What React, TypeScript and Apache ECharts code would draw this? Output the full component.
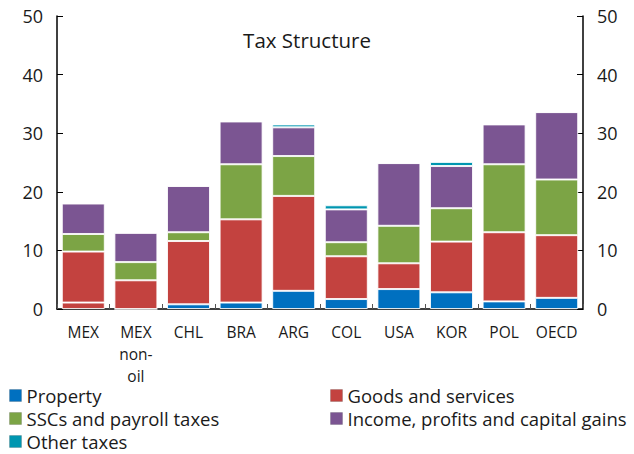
import React, { useEffect, useRef } from "react";
import * as echarts from "echarts";

const categories = ["MEX", "MEX\nnon-\noil", "CHL", "BRA", "ARG", "COL", "USA", "KOR", "POL", "OECD"];
const property = [1.1, 0, 0.8, 1.1, 3.1, 1.7, 3.4, 2.85, 1.3, 1.9];
const goods = [8.7, 4.9, 10.8, 14.2, 16.2, 7.3, 4.4, 8.65, 11.8, 10.7];
const sscs = [3.0, 3.1, 1.5, 9.4, 6.8, 2.4, 6.4, 5.7, 11.6, 9.5];
const income = [5.2, 5.0, 7.9, 7.3, 4.9, 5.6, 10.7, 7.2, 6.8, 11.5];
const other = [0, 0, 0, 0, 0.5, 0.7, 0, 0.7, 0, 0];
const yTicks = [0, 10, 20, 30, 40, 50];

const seriesNames = [
  "Property",
  "Goods and services",
  "SSCs and payroll taxes",
  "Income, profits and capital gains",
  "Other taxes",
];
const colors = ["#0070C0", "#C3423F", "#7CA445", "#7B5592", "#0096B0"];
const FONT = "'Open Sans', 'Noto Sans', sans-serif";

export default function App() {
  const ref = useRef<HTMLDivElement>(null);
  useEffect(() => {
    const chart = echarts.init(ref.current!, null, { renderer: "svg" });
    const datasets = [property, goods, sscs, income, other];
    const series = datasets.map((d, i) => ({
      name: seriesNames[i],
      type: "bar",
      stack: "total",
      barWidth: 43,
      data: d.map((v, j) =>
        i === 0 && j === 0 ? { value: v, itemStyle: { color: colors[1] } } : v
      ),
      itemStyle: { color: colors[i], borderColor: "rgba(255,255,255,0.85)", borderWidth: 1 },
    }));
    const legendPos = [
      { left: 9, top: 386 },
      { left: 330, top: 386 },
      { left: 9, top: 409 },
      { left: 330, top: 409 },
      { left: 9, top: 432 },
    ];
    const legends = seriesNames.map((n, i) => ({
      data: [n],
      left: legendPos[i].left,
      top: legendPos[i].top,
      itemWidth: 12,
      itemHeight: 12,
      itemGap: 4,
      padding: 0,
      icon: "rect",
      selectedMode: false,
      itemStyle: { borderColor: "rgba(0,0,0,0.15)", borderWidth: 1 },
      textStyle: { fontFamily: FONT, fontSize: 18.5, lineHeight: 18, color: "#1a1a1a", padding: [0, 0, 0, 0] },
    }));
    const yAxisBase = {
      type: "value",
      min: 0,
      max: 50,
      interval: 10,
      splitLine: { show: false },
      axisLine: { show: true, lineStyle: { color: "#000", width: 1.5 } },
      axisTick: { show: true, inside: true, length: 6, lineStyle: { color: "#000" } },
      axisLabel: {
        fontFamily: FONT,
        fontSize: 18,
        color: "#1a1a1a",
        margin: 14,
        formatter: (v: number) => (yTicks.includes(v) ? String(v) : ""),
      },
    };
    chart.setOption({
      animation: false,
      title: {
        text: "Tax Structure",
        left: 302,
        textAlign: "center",
        top: 24,
        textStyle: { fontFamily: FONT, fontSize: 20.5, fontWeight: "normal", color: "#1a1a1a" },
      },
      legend: legends,
      grid: { left: 57, right: 51, top: 16, bottom: 145 },
      xAxis: {
        type: "category",
        data: categories,
        axisLine: { show: true, lineStyle: { color: "#000", width: 1.5 } },
        axisTick: { show: true, inside: true, length: 5, lineStyle: { color: "#555" } },
        axisLabel: {
          fontFamily: FONT,
          fontSize: 15.5,
          color: "#1a1a1a",
          lineHeight: 22,
          margin: 12,
          interval: 0,
        },
      },
      yAxis: [
        { ...yAxisBase, position: "left" },
        { ...yAxisBase, position: "right" },
      ],
      series,
    });
    return () => chart.dispose();
  }, []);
  return <div ref={ref} style={{ width: 634, height: 454, position: "absolute", left: 0, top: 0, background: "#fff" }} />;
}
